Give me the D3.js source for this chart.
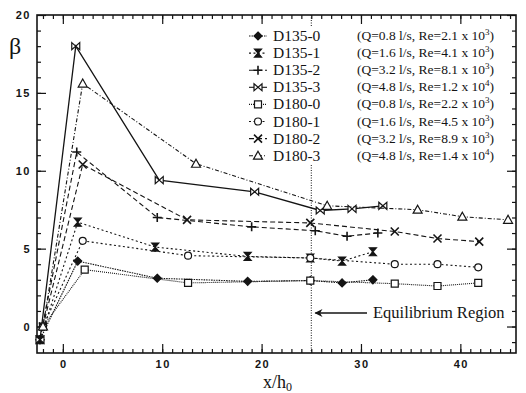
<!DOCTYPE html>
<html>
<head>
<meta charset="utf-8">
<script src="https://cdn.jsdelivr.net/npm/d3@7"></script>
<style>
  body { margin: 0; background: #fff; }
  svg { display: block; }
</style>
</head>
<body>
<svg width="526" height="393"></svg>
<script>
// series names and notes shown in the legend
const seriesNames = ["D135-0", "D135-1", "D135-2", "D135-3", "D180-0", "D180-1", "D180-2", "D180-3"];
const flowQ = ["0.8", "1.6", "3.2", "4.8", "0.8", "1.6", "3.2", "4.8"];
const reMant = ["2.1", "4.1", "8.1", "1.2", "2.2", "4.5", "8.9", "1.4"];
const reExp = ["3", "3", "3", "4", "3", "3", "3", "4"];

// values (x/h0, beta)
const x135_0 = [-2.3, 1.5, 9.5, 18.6, 24.9, 28.1, 31.2];
const y135_0 = [-0.85, 4.2, 3.1, 2.9, 2.95, 2.8, 3.0];
const x135_1 = [-2.3, 1.5, 9.3, 18.6, 24.9, 28.1, 31.2];
const y135_1 = [-0.85, 6.7, 5.1, 4.5, 4.4, 4.2, 4.8];
const x135_2 = [-2.3, 1.4, 9.5, 19.0, 25.4, 28.6, 31.7];
const y135_2 = [-0.85, 11.2, 7.0, 6.4, 6.15, 5.8, 6.0];
const x135_3 = [-2.3, 1.3, 9.7, 19.3, 25.9, 29.1, 32.2];
const y135_3 = [-0.85, 18.0, 9.4, 8.65, 7.45, 7.55, 7.75];
const x180_0 = [-2.0, 2.2, 12.6, 24.9, 33.4, 37.7, 41.8];
const y180_0 = [0.0, 3.65, 2.8, 2.95, 2.75, 2.6, 2.8];
const x180_1 = [-2.0, 2.0, 12.6, 24.9, 33.4, 37.7, 41.8];
const y180_1 = [0.0, 5.5, 4.55, 4.4, 4.0, 4.0, 3.8];
const x180_2 = [-2.0, 2.0, 12.5, 24.9, 33.4, 37.7, 41.9];
const y180_2 = [0.0, 10.4, 6.85, 6.65, 6.1, 5.65, 5.45];
const x180_3 = [-2.0, 2.0, 13.4, 26.6, 35.7, 40.2, 44.8];
const y180_3 = [0.0, 15.6, 10.45, 7.75, 7.5, 7.05, 6.85];

const xTickValues = [0, 10, 20, 30, 40];
const yTickValues = [0, 5, 10, 15, 20];
const equilibriumX = 25;

const xs = [x135_0, x135_1, x135_2, x135_3, x180_0, x180_1, x180_2, x180_3];
const ys = [y135_0, y135_1, y135_2, y135_3, y180_0, y180_1, y180_2, y180_3];
const markers = ["diamond", "hourglass", "plus", "bowtie", "square", "circle", "cross", "triangle"];
const dashes = ["1.5,1", "2,2.5", "5,3", null, "1,1", "2,2.5", "5,3", "4,2,1,2"];

const svg = d3.select("svg");
const plotLeft = 37, plotRight = 516, plotTop = 15, plotBottom = 353;

const x = d3.scaleLinear().domain([-2.6, 45.6]).range([plotLeft, plotRight]);
const y = d3.scaleLinear().domain([-1.7, 20]).range([plotBottom, plotTop]);

const ink = "#141414";
const serif = "'Liberation Serif', 'DejaVu Serif', serif";
const sans = "'Liberation Sans', Arial, sans-serif";

// frame
svg.append("rect")
  .attr("x", plotLeft).attr("y", plotTop)
  .attr("width", plotRight - plotLeft).attr("height", plotBottom - plotTop)
  .attr("fill", "none").attr("stroke", ink).attr("stroke-width", 1.6);

// ticks, all pointing inwards
const minorX = d3.range(-2, 46, 1);
const minorY = d3.range(-1, 20, 1);
function tickAxis(axis, transform, size, values) {
  const g = svg.append("g").attr("transform", transform)
    .call(axis.tickValues(values).tickSize(size).tickFormat(""));
  g.select(".domain").remove();
  g.selectAll("line").attr("stroke", ink).attr("stroke-width", 1.2);
}
tickAxis(d3.axisBottom(x), `translate(0,${plotBottom})`, -4, minorX);
tickAxis(d3.axisBottom(x), `translate(0,${plotBottom})`, -9, xTickValues);
tickAxis(d3.axisTop(x), `translate(0,${plotTop})`, -4, minorX);
tickAxis(d3.axisTop(x), `translate(0,${plotTop})`, -9, xTickValues);
tickAxis(d3.axisLeft(y), `translate(${plotLeft},0)`, -4, minorY);
tickAxis(d3.axisLeft(y), `translate(${plotLeft},0)`, -9, yTickValues);
tickAxis(d3.axisRight(y), `translate(${plotRight},0)`, -4, minorY);
tickAxis(d3.axisRight(y), `translate(${plotRight},0)`, -9, yTickValues);

// tick labels
svg.append("g").selectAll("text")
  .data(xTickValues).join("text")
  .attr("x", d => x(d) + 1).attr("y", 368)
  .attr("text-anchor", "middle")
  .attr("font-family", sans).attr("font-weight", "bold")
  .attr("font-size", 11).attr("letter-spacing", 1.5)
  .attr("fill", ink)
  .text(d => d);

svg.append("g").selectAll("text")
  .data(yTickValues).join("text")
  .attr("x", 31).attr("y", d => y(d) + 4)
  .attr("text-anchor", "end")
  .attr("font-family", sans).attr("font-weight", "bold")
  .attr("font-size", 11).attr("letter-spacing", 1.5)
  .attr("fill", ink)
  .text(d => d);

// axis titles
svg.append("text")
  .attr("x", 9).attr("y", 54)
  .attr("font-family", serif).attr("font-size", 24)
  .attr("fill", ink)
  .text("β");

const xt = svg.append("text")
  .attr("x", 263).attr("y", 388)
  .attr("font-family", serif).attr("font-size", 18)
  .attr("fill", ink);
xt.append("tspan").text("x/h");
xt.append("tspan").attr("font-size", 12).attr("dy", 3).text("0");

// equilibrium line
svg.append("line")
  .attr("x1", x(equilibriumX)).attr("x2", x(equilibriumX))
  .attr("y1", plotTop).attr("y2", plotBottom)
  .attr("stroke", ink).attr("stroke-width", 1)
  .attr("stroke-dasharray", "1,1.5");

// marker shapes
function markerPath(type) {
  switch (type) {
    case "diamond": return "M0,-4L4,0L0,4L-4,0Z";
    case "hourglass": return "M-3.5,-4L3.5,-4L-3.5,4L3.5,4Z";
    case "plus": return "M-4.5,0H4.5M0,-4.5V4.5";
    case "bowtie": return "M-4,-3.5L4,3.5L4,-3.5L-4,3.5Z";
    case "square": return "M-3.5,-3.5H3.5V3.5H-3.5Z";
    case "circle": return "M3.5,0A3.5,3.5 0 1,1 -3.5,0A3.5,3.5 0 1,1 3.5,0Z";
    case "cross": return "M-4,-4L4,4M-4,4L4,-4";
    case "triangle": return "M0,-4.5L4.5,3.5L-4.5,3.5Z";
  }
}
const filled = { diamond: true, hourglass: true };
function markerFill(type) {
  if (filled[type]) return ink;
  return type === "plus" || type === "cross" ? "none" : "#fff";
}
function markerWidth(type) {
  return type === "cross" || type === "plus" ? 1.6 : 1.2;
}

const line = d3.line().x(d => x(d[0])).y(d => y(d[1]));

seriesNames.forEach((name, i) => {
  const pts = xs[i].map((v, j) => [v, ys[i][j]]);
  svg.append("path")
    .datum(pts)
    .attr("d", line)
    .attr("fill", "none")
    .attr("stroke", ink)
    .attr("stroke-width", i === 3 ? 1.3 : 1.1)
    .attr("stroke-dasharray", dashes[i]);
});

seriesNames.forEach((name, i) => {
  const pts = xs[i].map((v, j) => [v, ys[i][j]]);
  svg.append("g").selectAll("path")
    .data(pts).join("path")
    .attr("transform", d => `translate(${x(d[0])},${y(d[1])})`)
    .attr("d", markerPath(markers[i]))
    .attr("fill", markerFill(markers[i]))
    .attr("stroke", ink)
    .attr("stroke-width", markerWidth(markers[i]));
});

// legend
const legend = svg.append("g");
legend.append("rect")
  .attr("x", 244).attr("y", 27).attr("width", 266).attr("height", 137)
  .attr("fill", "#fff");

seriesNames.forEach((name, i) => {
  const cy = 36 + i * 17.1;
  const g = legend.append("g").attr("transform", `translate(0,${cy})`);
  g.append("line")
    .attr("x1", 249).attr("x2", 267)
    .attr("stroke", ink).attr("stroke-width", 1.1)
    .attr("stroke-dasharray", dashes[i]);
  g.append("path")
    .attr("transform", "translate(258,0)")
    .attr("d", markerPath(markers[i]))
    .attr("fill", markerFill(markers[i]))
    .attr("stroke", ink)
    .attr("stroke-width", markerWidth(markers[i]));
  g.append("text")
    .attr("x", 273).attr("y", 5)
    .attr("font-family", serif).attr("font-size", 15.5)
    .attr("fill", ink)
    .text(name);
  const t = g.append("text")
    .attr("x", 357).attr("y", 4)
    .attr("font-family", serif).attr("font-size", 13.5)
    .attr("fill", ink);
  t.append("tspan").text(`(Q=${flowQ[i]} l/s, Re=${reMant[i]} x 10`);
  t.append("tspan").attr("font-size", 9).attr("dy", -5).text(reExp[i]);
  t.append("tspan").attr("dy", 5).text(")");
});

// equilibrium annotation: arrow pointing left towards the dotted line
svg.append("defs").append("marker")
  .attr("id", "arrow").attr("viewBox", "0 0 10 10")
  .attr("refX", 9).attr("refY", 5)
  .attr("markerWidth", 7).attr("markerHeight", 5)
  .attr("orient", "auto")
  .append("path").attr("d", "M10,5L0,0L3,5L0,10Z").attr("fill", ink);

svg.append("line")
  .attr("x1", 367).attr("x2", x(equilibriumX) + 4)
  .attr("y1", 313).attr("y2", 313)
  .attr("stroke", ink).attr("stroke-width", 1.6)
  .attr("marker-end", "url(#arrow)");

svg.append("text")
  .attr("x", 373).attr("y", 318)
  .attr("font-family", serif).attr("font-size", 16.5)
  .attr("fill", ink)
  .text("Equilibrium Region");
</script>
</body>
</html>
